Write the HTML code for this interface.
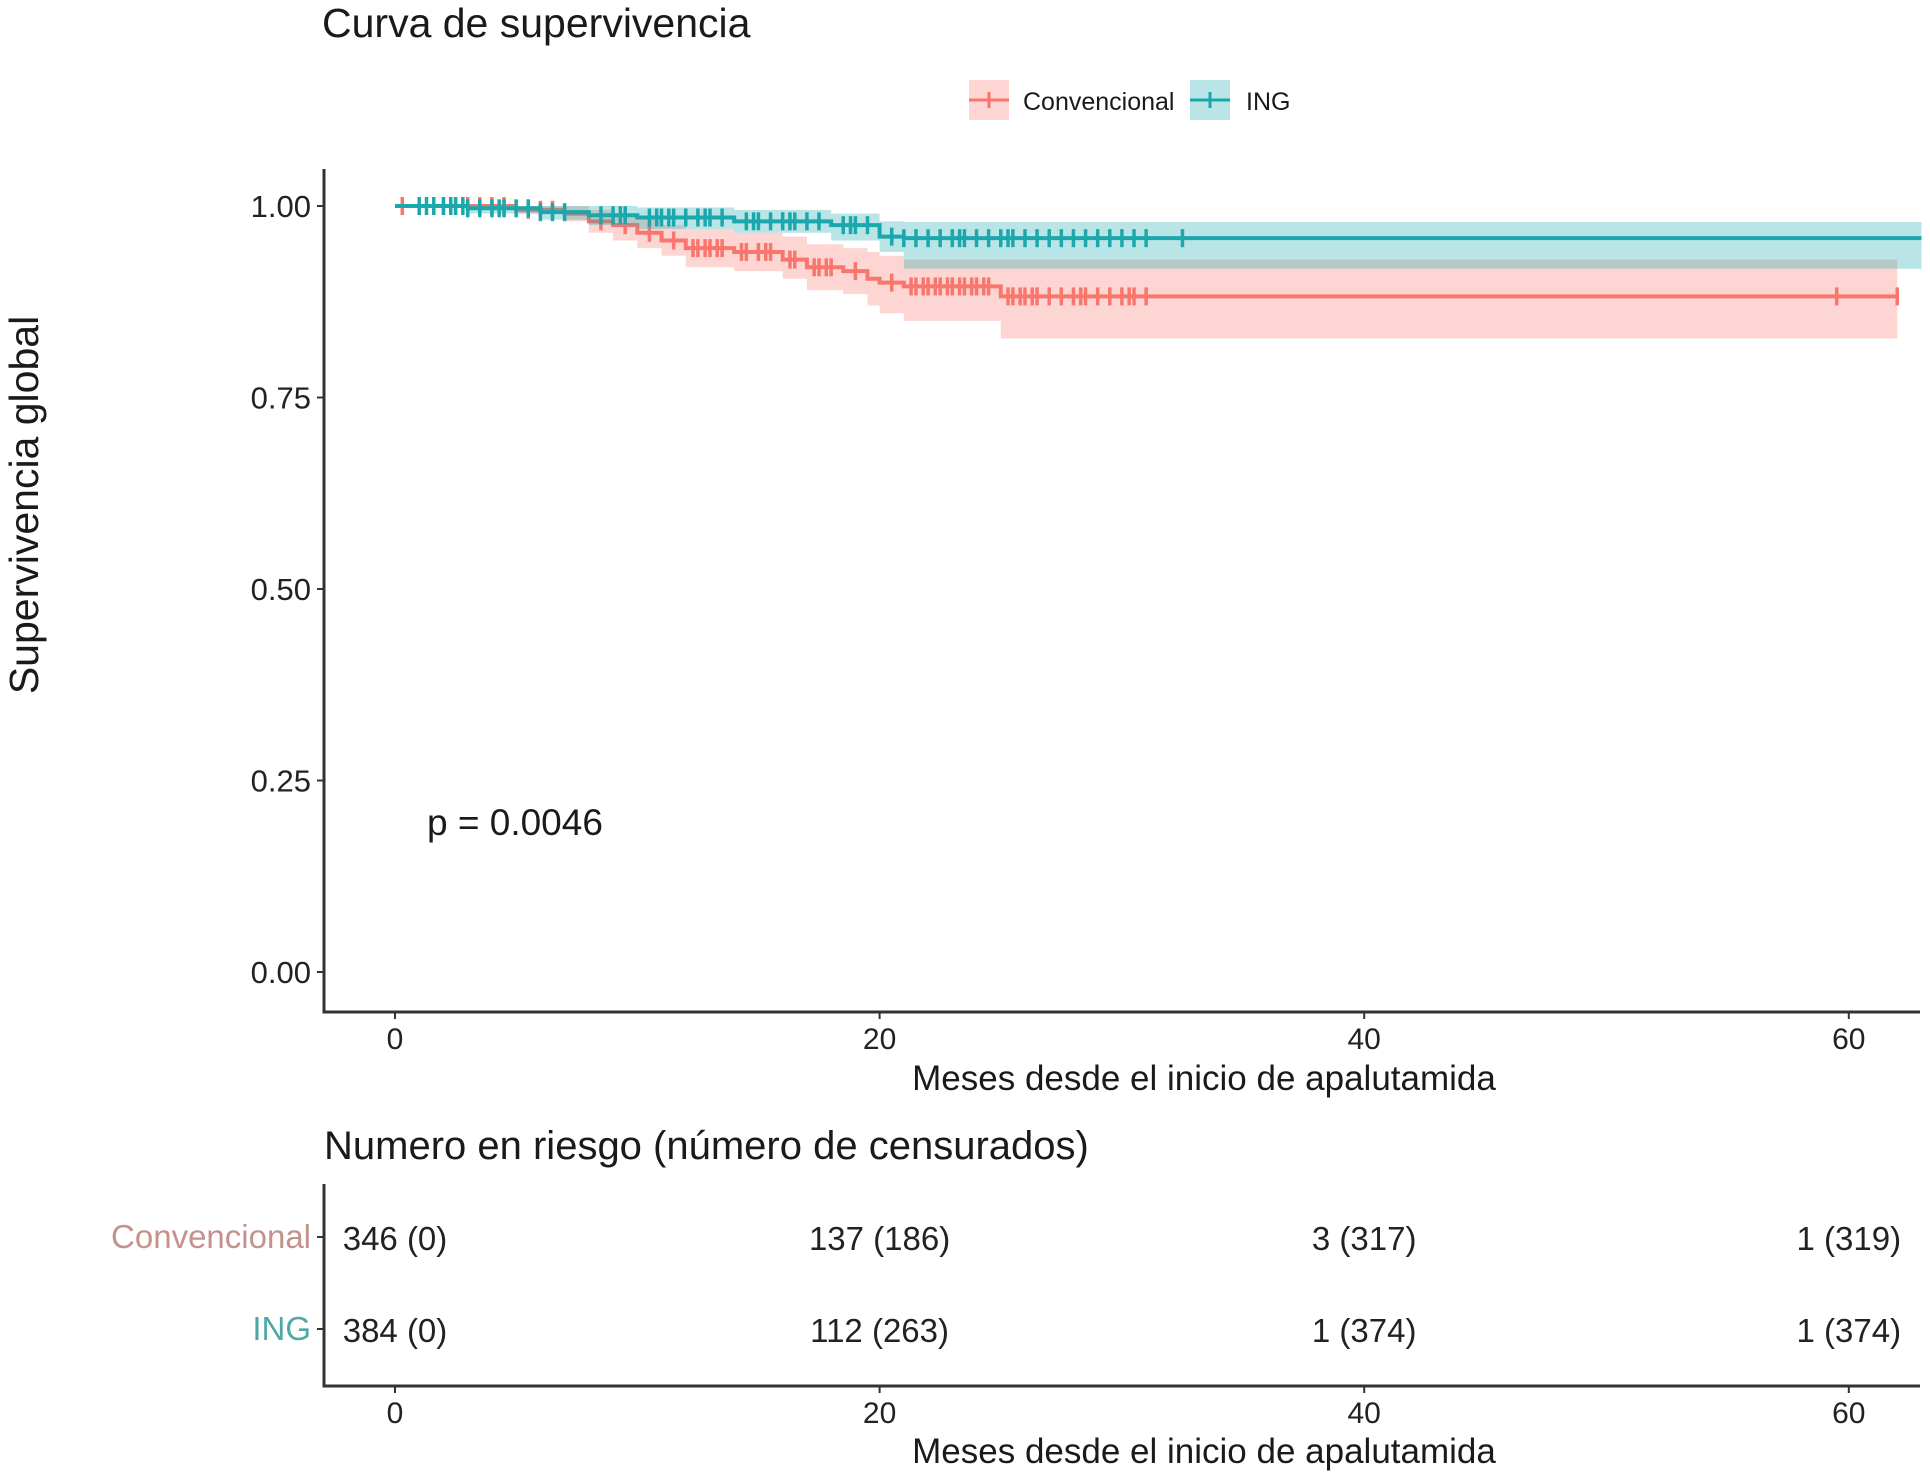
<!DOCTYPE html>
<html><head><meta charset="utf-8"><style>
html,body{margin:0;padding:0;background:#fff;}
svg{display:block;font-family:"Liberation Sans",Arial,sans-serif;}
</style></head><body>
<svg id="chart" width="1930" height="1479" viewBox="0 0 1930 1479">
<text x="322" y="37" font-size="41" fill="#1a1a1a">Curva de supervivencia</text>
<g>
 <g>
  <rect x="969" y="80" width="40" height="40" fill="#F8766D" opacity="0.3"/>
  <line x1="969" y1="100" x2="1009" y2="100" stroke="#F8766D" stroke-width="3"/>
  <line x1="989" y1="92" x2="989" y2="108" stroke="#F8766D" stroke-width="3"/>
  <text x="1023" y="110" font-size="25" fill="#1a1a1a">Convencional</text>
 </g>
 <g>
  <rect x="1190" y="80" width="40" height="40" fill="#1AA8AD" opacity="0.3"/>
  <line x1="1190" y1="100" x2="1230" y2="100" stroke="#1AA8AD" stroke-width="3"/>
  <line x1="1210" y1="92" x2="1210" y2="108" stroke="#1AA8AD" stroke-width="3"/>
  <text x="1246" y="110" font-size="25" fill="#1a1a1a">ING</text>
 </g>
</g>
<text transform="translate(38,505) rotate(-90)" text-anchor="middle" font-size="41" fill="#1a1a1a">Supervivencia global</text>
<g id="plot"></g>
<text x="427" y="835" font-size="37" fill="#1a1a1a">p = 0.0046</text>
<text x="1204" y="1090" text-anchor="middle" font-size="35" fill="#1a1a1a">Meses desde el inicio de apalutamida</text>
<text x="324" y="1159" font-size="40" fill="#1a1a1a">Numero en riesgo (número de censurados)</text>
<g id="risk"></g>
<text x="1204" y="1463" text-anchor="middle" font-size="35" fill="#1a1a1a">Meses desde el inicio de apalutamida</text>
</svg>
<script>
const xTicks = [0, 20, 40, 60];
const yTicks = [0, 0.25, 0.5, 0.75, 1.0];
const yTickLabels = ["0.00", "0.25", "0.50", "0.75", "1.00"];
const convTimes = [0, 5, 7, 8, 9, 10, 11, 12, 14, 16, 17, 18.5, 19.5, 20, 21, 25];
const convSurv  = [1, 0.995, 0.99, 0.98, 0.975, 0.965, 0.955, 0.945, 0.94, 0.93, 0.92, 0.915, 0.905, 0.9, 0.895, 0.882];
const convLower = [1, 0.99, 0.98, 0.965, 0.955, 0.945, 0.935, 0.92, 0.915, 0.905, 0.89, 0.885, 0.87, 0.86, 0.85, 0.827];
const convUpper = [1, 1, 1, 0.995, 0.99, 0.985, 0.975, 0.97, 0.965, 0.96, 0.95, 0.945, 0.94, 0.935, 0.93, 0.93];
const convEnd = 62;
const ingTimes = [0, 3, 6, 8, 10, 14, 18, 20, 21];
const ingSurv  = [1, 0.997, 0.992, 0.988, 0.985, 0.98, 0.975, 0.96, 0.958];
const ingLower = [1, 0.99, 0.982, 0.975, 0.97, 0.965, 0.955, 0.94, 0.918];
const ingUpper = [1, 1, 1, 1, 0.998, 0.995, 0.99, 0.98, 0.979];
const ingEnd = 63;
const convCensor = [0.3, 2, 2.5, 3, 3.5, 4, 4.5, 5.5, 6, 6.5, 8.5, 9.5, 10.5, 11.5, 12.3, 12.5, 12.8, 13, 13.3, 13.5, 14.3, 14.5, 15, 15.3, 15.5, 16.3, 16.5, 17.3, 17.5, 17.8, 18, 19, 20.5, 21.3, 21.5, 21.8, 22, 22.3, 22.5, 22.8, 23, 23.3, 23.5, 23.8, 24, 24.3, 24.5, 25.3, 25.5, 25.8, 26, 26.3, 26.5, 27, 27.5, 28, 28.3, 28.5, 29, 29.5, 30, 30.3, 30.5, 31, 59.5, 62];
const ingCensor = [1, 1.3, 1.6, 2, 2.3, 2.5, 2.8, 3, 3.5, 4, 4.3, 4.5, 5, 5.5, 6, 6.5, 7, 8.5, 9, 9.3, 9.5, 10.5, 10.8, 11, 11.3, 11.5, 12, 12.5, 12.8, 13, 13.5, 14.5, 14.8, 15, 15.5, 16, 16.3, 16.5, 17, 17.5, 18.5, 18.8, 19, 19.5, 20.5, 21, 21.5, 22, 22.5, 23, 23.3, 23.5, 24, 24.5, 25, 25.3, 25.5, 26, 26.5, 27, 27.5, 28, 28.5, 29, 29.5, 30, 30.5, 31, 32.5];
const riskGroups = ["Convencional", "ING"];
const riskConv = ["346 (0)", "137 (186)", "3 (317)", "1 (319)"];
const riskIng = ["384 (0)", "112 (263)", "1 (374)", "1 (374)"];

const NS = "http://www.w3.org/2000/svg";
const X0 = 395, PXM = 24.23;
const xs = t => X0 + t * PXM;
const ys = v => 972 - v * 766;
function mk(parent, tag, attrs) {
  const e = document.createElementNS(NS, tag);
  for (const k in attrs) e.setAttribute(k, attrs[k]);
  parent.appendChild(e);
  return e;
}
const plot = document.getElementById("plot");
const RED = "#F8766D", TEAL = "#1AA8AD";

function stepPath(times, vals, end) {
  let d = "M" + xs(times[0]) + "," + ys(vals[0]);
  for (let i = 1; i < times.length; i++) d += "H" + xs(times[i]) + "V" + ys(vals[i]);
  return d + "H" + xs(end);
}
function bandPath(times, lo, hi, end) {
  let top = "M" + xs(times[0]) + "," + ys(hi[0]);
  for (let i = 1; i < times.length; i++) top += "H" + xs(times[i]) + "V" + ys(hi[i]);
  top += "H" + xs(end) + "V" + ys(lo[lo.length - 1]);
  for (let i = times.length - 1; i >= 1; i--) top += "H" + xs(times[i]) + "V" + ys(lo[i - 1]);
  return top + "H" + xs(times[0]) + "Z";
}
function survAt(times, vals, t) {
  let v = vals[0];
  for (let i = 0; i < times.length; i++) if (times[i] <= t) v = vals[i];
  return v;
}
function series(name, times, surv, lo, hi, end, censor, color) {
  const g = mk(plot, "g", {});
  
  
  const band = mk(g, "path", {d: bandPath(times, lo, hi, end), fill: color, opacity: 0.3});
  
  
  const line = mk(g, "path", {d: stepPath(times, surv, end), fill: "none", stroke: color, "stroke-width": 4});
  
  
  censor.forEach(t => {
    const y = ys(survAt(times, surv, t));
    const m = mk(g, "line", {x1: xs(t), x2: xs(t), y1: y - 9, y2: y + 9, stroke: color, "stroke-width": 3.5});
    
    
  });
}
series("convencional", convTimes, convSurv, convLower, convUpper, convEnd, convCensor, RED);
series("ing", ingTimes, ingSurv, ingLower, ingUpper, ingEnd, ingCensor, TEAL);

const ax = mk(plot, "path", {d: "M324,169V1012H1920", fill: "none", stroke: "#333", "stroke-width": 3});


yTicks.forEach((v, i) => {
  mk(plot, "line", {x1: 317, x2: 324, y1: ys(v), y2: ys(v), stroke: "#333", "stroke-width": 2});
  const t = mk(plot, "text", {x: 311, y: ys(v) + 11, "text-anchor": "end", "font-size": 31, fill: "#222"});
  t.textContent = yTickLabels[i];
  
  
});
xTicks.forEach(v => {
  mk(plot, "line", {x1: xs(v), x2: xs(v), y1: 1012, y2: 1019, stroke: "#333", "stroke-width": 2});
  const t = mk(plot, "text", {x: xs(v), y: 1049, "text-anchor": "middle", "font-size": 30, fill: "#222"});
  t.textContent = v;
  
  
});

const risk = document.getElementById("risk");
mk(risk, "path", {d: "M324,1184V1386H1920", fill: "none", stroke: "#333", "stroke-width": 3});
const rowY = [1237, 1329];
const rowColors = ["#C4928C", "#4FA8A6"];
[riskConv, riskIng].forEach((row, r) => {
  mk(risk, "line", {x1: 317, x2: 324, y1: rowY[r], y2: rowY[r], stroke: "#333", "stroke-width": 2});
  const lab = mk(risk, "text", {x: 311, y: rowY[r] + 11, "text-anchor": "end", "font-size": 33, fill: rowColors[r]});
  lab.textContent = riskGroups[r];
  
  
  row.forEach((s, i) => {
    const t = mk(risk, "text", {x: xs(xTicks[i]), y: rowY[r] + 13, "text-anchor": "middle", "font-size": 33, fill: "#222"});
    t.textContent = s;
    
    
  });
});
xTicks.forEach(v => {
  mk(risk, "line", {x1: xs(v), x2: xs(v), y1: 1386, y2: 1393, stroke: "#333", "stroke-width": 2});
  const t = mk(risk, "text", {x: xs(v), y: 1423, "text-anchor": "middle", "font-size": 30, fill: "#222"});
  t.textContent = v;
  
  
});
</script>
</body></html>
